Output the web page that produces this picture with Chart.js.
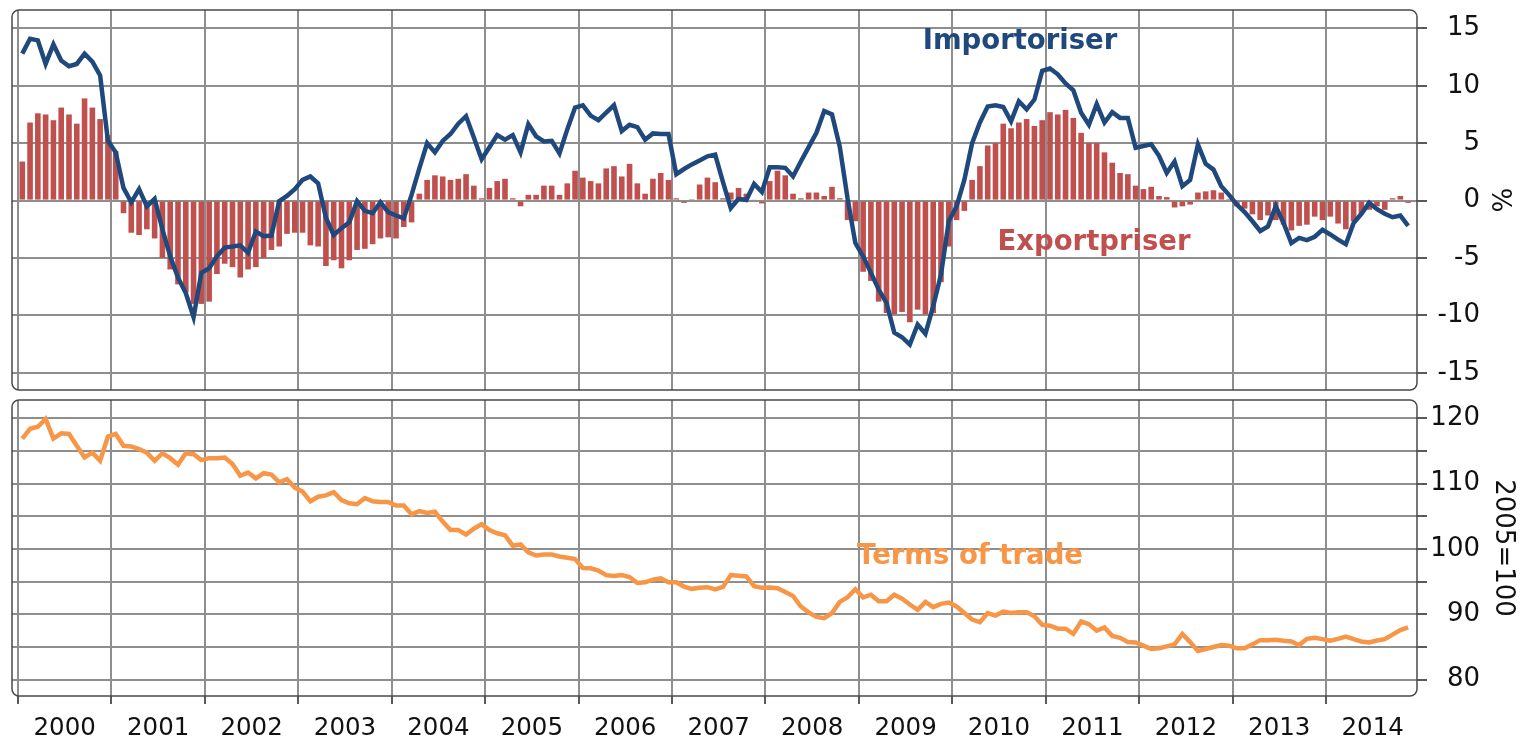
<!DOCTYPE html>
<html>
<head>
<meta charset="utf-8">
<script src="https://cdn.jsdelivr.net/npm/chart.js@4.4.1/dist/chart.umd.min.js"></script>
<style>
  body { margin: 0; width: 1526px; height: 740px; background: #fff; position: relative; overflow: hidden; }
  canvas { position: absolute; left: 0; }
  #topChart { top: 0; }
  #bottomChart { top: 395px; }
</style>
</head>
<body>
<canvas id="topChart" width="1526" height="400"></canvas>
<canvas id="bottomChart" width="1526" height="345"></canvas>
<script>
// monthly data, Jan 2000 - Nov 2014
const yearLabels = ['2000', '2001', '2002', '2003', '2004', '2005', '2006', '2007',
  '2008', '2009', '2010', '2011', '2012', '2013', '2014'];

// Exportpriser, % change (bars)
const exportpriser = [
  3.4, 6.8, 7.6, 7.5, 7.0, 8.1, 7.5, 6.7, 8.9, 8.1, 7.1, 5.7,
  4.3, -1.1, -2.8, -3.0, -2.5, -3.3, -5.0, -6.0, -7.3, -8.0, -9.0, -9.0,
  -8.8, -6.4, -5.5, -5.8, -6.7, -6.0, -5.8, -5.0, -4.3, -4.0, -2.9, -2.8,
  -2.8, -3.9, -4.0, -5.7, -5.2, -5.9, -5.2, -4.3, -4.2, -3.8, -3.3, -3.2,
  -3.3, -2.3, -1.9, 0.6, 1.8, 2.2, 2.1, 1.8, 1.9, 2.3, 1.3, 0.2,
  1.1, 1.7, 1.9, 0.2, -0.5, 0.5, 0.5, 1.3, 1.3, 0.5, 1.5, 2.6,
  2.0, 1.7, 1.5, 2.8, 3.0, 2.1, 3.2, 1.5, 0.6, 1.9, 2.4, 1.8,
  0.2, -0.2, 0.05, 1.4, 2.0, 1.6, 0.2, 0.7, 1.1, 0.6, 0.1, -0.25,
  1.7, 2.6, 2.2, 0.6, 0.2, 0.7, 0.7, 0.4, 1.2, 0.2, -1.7, -1.8,
  -6.2, -7.0, -8.8, -9.8, -9.9, -9.7, -10.6, -9.5, -9.9, -9.8, -7.1, -4.0,
  -1.7, -0.9, 1.8, 3.0, 4.8, 5.0, 6.7, 6.3, 6.8, 7.1, 6.5, 7.0,
  7.7, 7.5, 7.9, 7.2, 5.9, 5.0, 5.0, 4.2, 3.3, 2.4, 2.3, 1.3,
  1.0, 1.2, 0.4, 0.3, -0.6, -0.5, -0.35, 0.7, 0.8, 0.9, 0.7, 0.15,
  -0.5, -0.7, -1.2, -1.7, -1.3, -1.7, -2.1, -2.6, -2.2, -2.1, -1.4, -1.7,
  -1.4, -2.0, -2.5, -1.8, -1.1, -0.8, -0.5, -0.8, 0.2, 0.4, -0.2
];

// Importpriser, % change (line)
const importpriser = [
  12.8, 14.1, 13.95, 11.9, 13.6, 12.2, 11.7, 11.9, 12.8, 12.1, 10.9, 5.2,
  4.2, 1.1, -0.15, 1.0, -0.5, 0.15, -2.5, -4.85, -6.7, -8.05, -10.15, -6.3,
  -5.9, -4.85, -4.1, -4.0, -3.9, -4.55, -2.7, -3.1, -3.05, -0.05, 0.4, 1.0,
  1.8, 2.1, 1.5, -1.5, -3.0, -2.4, -1.9, -0.05, -0.9, -1.1, -0.15, -1.0,
  -1.3, -1.55, 0.5, 2.8, 5.0, 4.2, 5.2, 5.8, 6.7, 7.35, 5.5, 3.6,
  4.65, 5.7, 5.3, 5.7, 4.2, 6.65, 5.6, 5.15, 5.2, 4.1, 6.2, 8.1,
  8.3, 7.4, 7.0, 7.65, 8.3, 6.05, 6.6, 6.4, 5.3, 5.85, 5.8, 5.8,
  2.3, 2.75, 3.15, 3.5, 3.85, 4.0, 1.6, -0.65, 0.15, 0.05, 1.45, 0.75,
  2.9, 2.9, 2.85, 2.1, 3.4, 4.65, 5.9, 7.8, 7.5, 4.7, 0.2, -3.7,
  -4.85, -6.3, -7.75, -8.9, -11.5, -11.9, -12.55, -10.8, -11.6, -9.2, -6.45, -1.8,
  -0.5, 1.8, 5.0, 6.8, 8.2, 8.3, 8.15, 6.9, 8.65, 7.95, 8.8, 11.3,
  11.5, 11.0, 10.2, 9.6, 7.65, 6.6, 8.4, 6.8, 7.7, 7.2, 7.2, 4.6,
  4.75, 4.9, 3.9, 2.4, 3.4, 1.25, 1.8, 4.9, 3.2, 2.7, 1.25, 0.5,
  -0.35, -1.0, -1.8, -2.65, -2.25, -0.5, -1.95, -3.7, -3.25, -3.45, -3.15, -2.55,
  -2.95, -3.4, -3.8, -1.95, -1.15, -0.2, -0.75, -1.15, -1.45, -1.3, -2.2
];

// Terms of trade, 2005=100
const termsOfTrade = [
  116.9, 118.4, 118.7, 119.9, 116.9, 117.7, 117.6, 115.8, 114.0, 114.75, 113.5, 117.2,
  117.6, 115.8, 115.7, 115.3, 114.75, 113.5, 114.65, 113.9, 112.9, 114.65, 114.5, 113.6,
  113.9, 113.9, 114.0, 113.0, 111.2, 111.7, 110.8, 111.6, 111.4, 110.2, 110.7, 109.4,
  108.8, 107.3, 108.0, 108.2, 108.7, 107.5, 107.0, 106.85, 107.8, 107.3, 107.2, 107.2,
  106.65, 106.65, 105.3, 105.8, 105.5, 105.7, 104.2, 102.9, 102.9, 102.2, 103.1, 103.8,
  102.9, 102.4, 102.1, 100.5, 100.7, 99.5, 99.0, 99.15, 99.15, 98.85, 98.65, 98.45,
  97.1, 97.05, 96.7, 96.0, 95.85, 96.0, 95.7, 94.8, 94.9, 95.3, 95.5, 94.9,
  94.9, 94.25, 93.9, 94.05, 94.15, 93.8, 94.2, 96.0, 95.9, 95.8, 94.3, 94.05,
  94.1, 94.0, 93.4, 92.8, 91.2, 90.3, 89.6, 89.4, 90.2, 91.9, 92.6, 93.85,
  92.6, 93.0, 92.0, 92.0, 93.0, 92.4, 91.5, 90.7, 91.9, 91.1, 91.6, 91.8,
  91.2, 90.2, 89.2, 88.8, 90.2, 89.8, 90.4, 90.2, 90.3, 90.3, 89.7, 88.4,
  88.25, 87.8, 87.8, 87.0, 88.9, 88.5, 87.5, 88.0, 86.7, 86.4, 85.75, 85.7,
  85.2, 84.7, 84.8, 85.1, 85.4, 87.0, 85.75, 84.4, 84.7, 85.0, 85.3, 85.2,
  84.8, 84.8, 85.4, 86.05, 86.05, 86.1, 85.95, 85.85, 85.3, 86.25, 86.4, 86.2,
  85.95, 86.25, 86.6, 86.2, 85.85, 85.7, 86.0, 86.2, 86.9, 87.6, 88.0
];

const pctTicks = [-15, -10, -5, 0, 5, 10, 15];
const indexTicks = [80, 85, 90, 95, 100, 105, 110, 115, 120];

const navy = '#1f497d';
const red = '#c0504d';
const orange = '#f79646';
const gridColor = '#8e8e8e';
const tickMarkColor = '#5a5a5a';
const textColor = '#111';
const tickFont = { family: 'DejaVu Sans', size: 26, lineHeight: 1 };

// x in months since Jan 2000, points sit mid month
const xMin = -0.77, xMax = 179.69;
const toXY = arr => arr.map((v, i) => ({ x: i + 0.55, y: v }));
const yearStarts = yearLabels.map((y, i) => i * 12);
const xTicks = [];
yearLabels.forEach((y, i) => { xTicks.push(i * 12, i * 12 + 6); });

// keep the chart area fixed: no extra room for overhanging labels
function fixWidth(w) {
  return s => { s.width = w; s.paddingTop = 0; s.paddingBottom = 0; };
}
function fixHeight(h) {
  return s => { s.height = h; s.paddingLeft = 0; s.paddingRight = 0; };
}

const framePlugin = {
  id: 'frame',
  afterDraw(chart) {
    const { ctx, chartArea: a } = chart;
    ctx.save();
    ctx.strokeStyle = '#4a4a4a';
    ctx.lineWidth = 1.5;
    ctx.beginPath();
    ctx.roundRect(a.left, a.top, a.right - a.left, a.bottom - a.top, 7);
    ctx.stroke();
    ctx.restore();
  }
};

const seriesLabels = {
  id: 'seriesLabels',
  afterDatasetsDraw(chart, args, opts) {
    const ctx = chart.ctx;
    ctx.save();
    ctx.font = 'bold 27.5px "DejaVu Sans"';
    ctx.textAlign = 'center';
    ctx.textBaseline = 'alphabetic';
    opts.items.forEach(it => {
      ctx.fillStyle = it.color;
      ctx.fillText(it.text, it.x, it.y);
    });
    ctx.restore();
  }
};

new Chart(document.getElementById('topChart'), {
  type: 'bar',
  data: {
    datasets: [
      {
        type: 'line',
        label: 'Importoriser',
        data: toXY(importpriser),
        borderColor: navy,
        borderWidth: 4.5,
        pointRadius: 0,
        tension: 0,
        order: 0
      },
      {
        type: 'bar',
        label: 'Exportpriser',
        data: toXY(exportpriser),
        backgroundColor: red,
        categoryPercentage: 0.8,
        barPercentage: 0.9,
        order: 1
      }
    ]
  },
  options: {
    responsive: false,
    animation: false,
    devicePixelRatio: 1,
    layout: { padding: { left: 12, top: 10, right: 46, bottom: 10 } },
    plugins: {
      legend: { display: false },
      tooltip: { enabled: false },
      seriesLabels: {
        items: [
          { text: 'Importoriser', x: 1020, y: 49, color: navy },
          { text: 'Exportpriser', x: 1094, y: 250, color: red }
        ]
      }
    },
    scales: {
      x: {
        type: 'linear',
        min: xMin,
        max: xMax,
        offset: false,
        afterBuildTicks: s => { s.ticks = yearStarts.map(v => ({ value: v })); },
        ticks: { display: false },
        grid: { color: gridColor, lineWidth: 2, drawTicks: false, offset: false },
        border: { display: false },
        afterFit: fixHeight(0)
      },
      y: {
        position: 'right',
        min: -16.5,
        max: 16.6,
        afterBuildTicks: s => { s.ticks = pctTicks.map(v => ({ value: v })); },
        ticks: { font: tickFont, color: textColor, padding: 10, crossAlign: 'far', callback: v => String(v) },
        grid: { color: gridColor, lineWidth: 2, tickLength: 10, tickColor: tickMarkColor },
        border: { display: false },
        title: { display: true, text: '%', font: tickFont, color: textColor, padding: { top: -32 } },
        afterFit: fixWidth(63)
      }
    }
  },
  plugins: [framePlugin, seriesLabels]
});

new Chart(document.getElementById('bottomChart'), {
  type: 'line',
  data: {
    datasets: [
      {
        label: 'Terms of trade',
        data: toXY(termsOfTrade),
        borderColor: orange,
        borderWidth: 4.5,
        pointRadius: 0,
        tension: 0
      }
    ]
  },
  options: {
    responsive: false,
    animation: false,
    devicePixelRatio: 1,
    layout: { padding: { left: 12, top: 5, right: 46, bottom: 0 } },
    plugins: {
      legend: { display: false },
      tooltip: { enabled: false },
      seriesLabels: {
        items: [
          { text: 'Terms of trade', x: 970, y: 169, color: orange }
        ]
      }
    },
    scales: {
      x: {
        type: 'linear',
        min: xMin,
        max: xMax,
        afterBuildTicks: s => { s.ticks = xTicks.map(v => ({ value: v })); },
        ticks: {
          font: { family: 'DejaVu Sans', size: 24.5, lineHeight: 1.2 },
          color: textColor,
          padding: 10,
          maxRotation: 0,
          autoSkip: false,
          callback: v => (v % 12 === 6 ? yearLabels[(v - 6) / 12] : '')
        },
        grid: {
          color: c => (c.tick && c.tick.value % 12 === 0 ? gridColor : 'rgba(0,0,0,0)'),
          tickColor: c => (c.tick && c.tick.value % 12 === 0 ? tickMarkColor : 'rgba(0,0,0,0)'),
          lineWidth: 2,
          tickLength: 8
        },
        border: { display: false },
        afterFit: fixHeight(44)
      },
      y: {
        position: 'right',
        min: 77.5,
        max: 122.8,
        afterBuildTicks: s => { s.ticks = indexTicks.map(v => ({ value: v })); },
        ticks: {
          font: tickFont, color: textColor, padding: 10, crossAlign: 'far',
          callback: v => (v % 10 === 0 ? String(v) : '')
        },
        grid: { color: gridColor, lineWidth: 2, tickLength: 10, tickColor: tickMarkColor },
        border: { display: false },
        title: { display: true, text: '2005=100', font: tickFont, color: textColor, padding: { top: -36 } },
        afterFit: fixWidth(63)
      }
    }
  },
  plugins: [framePlugin, seriesLabels]
});
</script>
</body>
</html>
